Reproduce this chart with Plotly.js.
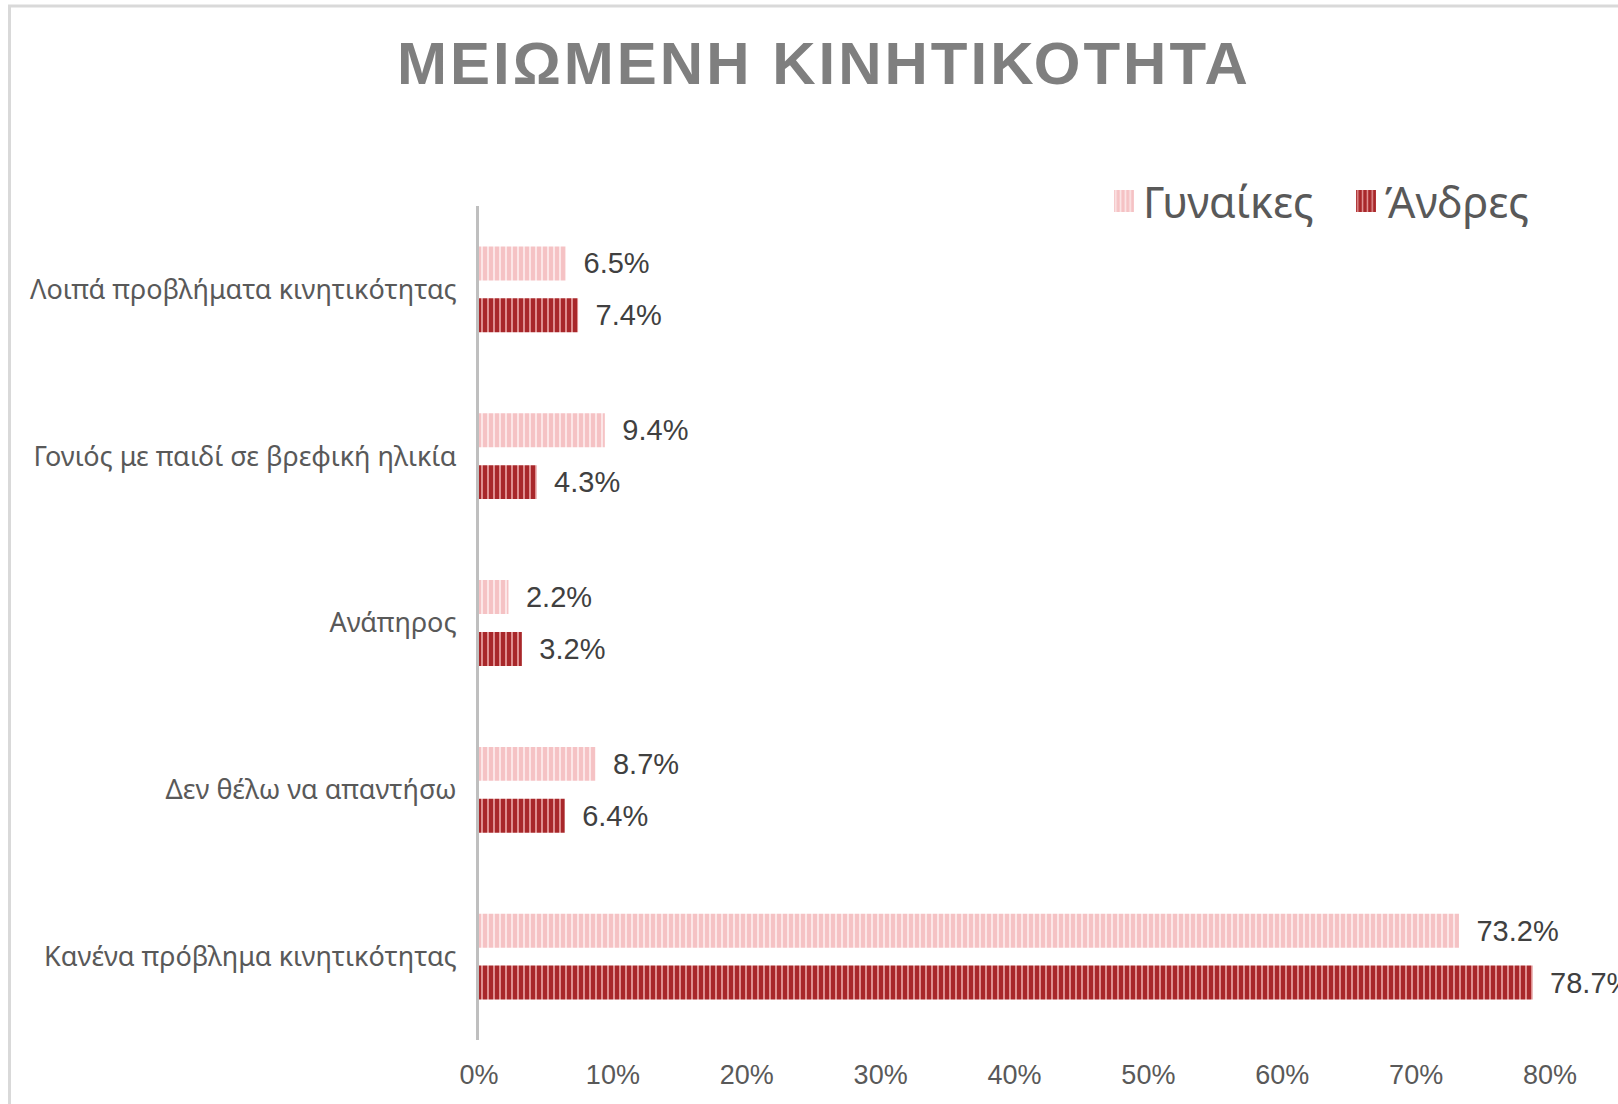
<!DOCTYPE html>
<html>
<head>
<meta charset="utf-8">
<script src="https://cdn.plot.ly/plotly-3.0.1.min.js"></script>
<style>
  html, body { margin: 0; padding: 0; background: #ffffff; }
  #chart { width: 1618px; height: 1104px; }
</style>
</head>
<body>
<div id="chart"></div>
<script>
const categories = [
  "Λοιπά προβλήματα κινητικότητας",
  "Γονιός με παιδί σε βρεφική ηλικία",
  "Ανάπηρος",
  "Δεν θέλω να απαντήσω",
  "Κανένα πρόβλημα κινητικότητας"
];
const women = [6.5, 9.4, 2.2, 8.7, 73.2];
const men = [7.4, 4.3, 3.2, 6.4, 78.7];
const seriesNames = ["Γυναίκες", "Άνδρες"];
const tickValues = [0, 10, 20, 30, 40, 50, 60, 70, 80];
const tickLabels = ["0%", "10%", "20%", "30%", "40%", "50%", "60%", "70%", "80%"];

const labelFont = { family: "Liberation Sans, Arial, sans-serif", size: 29, color: "#404040" };

const traces = [
  {
    type: "bar", orientation: "h", name: seriesNames[0],
    y: categories, x: women,
    text: women.map(v => "\u2002" + v.toFixed(1) + "%"),
    textposition: "outside", textfont: labelFont, cliponaxis: false, constraintext: "none",
    marker: { color: "#f5c4c6", line: { width: 0 },
      pattern: { shape: "|", bgcolor: "#f5c2c4", fgcolor: "#fce6e7", size: 6, solidity: 0.35, fillmode: "replace" } },
    hoverinfo: "skip"
  },
  {
    type: "bar", orientation: "h", name: seriesNames[1],
    y: categories, x: men,
    text: men.map(v => "\u2002" + v.toFixed(1) + "%"),
    textposition: "outside", textfont: labelFont, cliponaxis: false, constraintext: "none",
    marker: { color: "#a8272a", line: { width: 0 },
      pattern: { shape: "|", bgcolor: "#a8272a", fgcolor: "#e59a9b", size: 6, solidity: 0.3, fillmode: "replace" } },
    hoverinfo: "skip"
  }
];

const L = 479, R = 1550, T = 206, B = 1040;
const px2x = p => (p - L) / (R - L);
const py2y = p => (B - p) / (B - T);

const layout = {
  width: 1618, height: 1104,
  margin: { l: L, r: 1618 - R, t: T, b: 1104 - B, pad: 0 },
  paper_bgcolor: "#ffffff", plot_bgcolor: "#ffffff",
  barmode: "group", bargap: 0.378, bargroupgap: 0.346,
  title: {
    text: "ΜΕΙΩΜΕΝΗ ΚΙΝΗΤΙΚΟΤΗΤΑ",
    font: { family: "Liberation Sans, Arial, sans-serif", size: 60, color: "#7f7f7f", weight: "bold" },
    xref: "container", yref: "container", x: 824 / 1618, y: 1 - 63 / 1104,
    xanchor: "center", yanchor: "middle"
  },
  showlegend: true,
  legend: {
    orientation: "h", x: px2x(1103), y: py2y(201), xanchor: "left", yanchor: "middle",
    font: { family: "Noto Sans, DejaVu Sans, sans-serif", size: 43, color: "#595959" },
    bgcolor: "rgba(0,0,0,0)", traceorder: "normal", itemclick: false,
    entrywidthmode: "pixels", entrywidth: 197
  },
  xaxis: {
    range: [0, 80], tickvals: tickValues, ticktext: tickLabels,
    showgrid: false, zeroline: false, showline: false, ticks: "",
    ticklabelstandoff: 16,
    tickfont: { family: "Liberation Sans, Arial, sans-serif", size: 27, color: "#595959" },
    fixedrange: true
  },
  yaxis: {
    type: "category", autorange: "reversed",
    showgrid: false, zeroline: false, showline: true, linecolor: "#bfbfbf", linewidth: 3,
    ticks: "", ticklabelstandoff: 14,
    tickfont: { family: "Noto Sans, DejaVu Sans, sans-serif", size: 27, color: "#595959" },
    fixedrange: true
  },
  shapes: [
    { type: "line", xref: "paper", yref: "paper", x0: px2x(9.5), x1: px2x(9.5), y0: py2y(1110), y1: py2y(6), line: { color: "#d9d9d9", width: 3 } },
    { type: "line", xref: "paper", yref: "paper", x0: px2x(8), x1: px2x(1625), y0: py2y(6), y1: py2y(6), line: { color: "#d9d9d9", width: 3 } }
  ]
};

Plotly.newPlot("chart", traces, layout, { displayModeBar: false, staticPlot: true }).then(() => {
  const t = document.querySelector(".gtitle");
  if (t) t.style.letterSpacing = "3px";
  document.querySelectorAll(".legendpoints path").forEach(p => p.setAttribute("d", "M11,11H-9V-11H11Z"));
});
</script>
</body>
</html>
